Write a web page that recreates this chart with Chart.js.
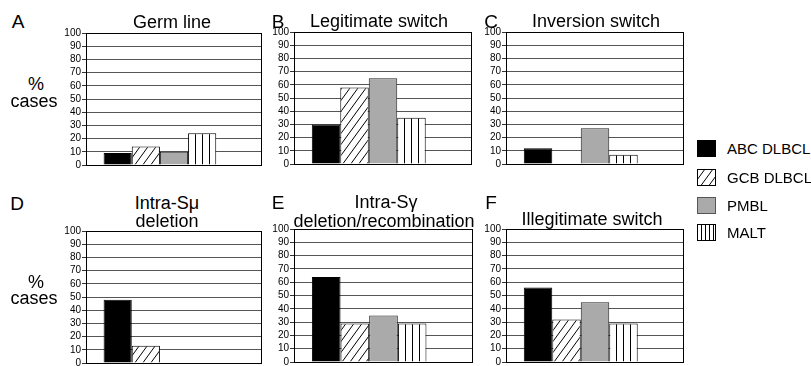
<!DOCTYPE html>
<html>
<head>
<meta charset="utf-8">
<script src="https://cdn.jsdelivr.net/npm/chart.js@4"></script>
<style>
  body { margin: 0; background: #fff; width: 811px; height: 366px; overflow: hidden; position: relative; font-family: "Liberation Sans", Arial, sans-serif; color: #000; }
  canvas { position: absolute; }
  .txt { position: absolute; transform: translate(-50%, -50%); white-space: nowrap; line-height: 1; font-size: 18px; }
  .leg { position: absolute; left: 697px; height: 17px; }
  .leg canvas { position: absolute; left: 0; top: 0; }
  .leg span { position: absolute; left: 30px; top: 1px; font-size: 15px; line-height: 15px; white-space: nowrap; }
</style>
</head>
<body>
<div id="root"></div>
<script>
// les titres des panneaux
const lettres = ['A', 'B', 'C', 'D', 'E', 'F'];
const titres = [['Germ line'], ['Legitimate switch'], ['Inversion switch'], ['Intra-Sμ', 'deletion'], ['Intra-Sγ', 'deletion/recombination'], ['Illegitimate switch']];
// les series (legende)
const series = ['ABC DLBCL', 'GCB DLBCL', 'PMBL', 'MALT'];
// les valeurs (% cases) pour chaque panneau A..F
const abcValues = [9, 30, 12, 48, 64, 56];
const gcbValues = [14, 58, 0, 13, 29, 32];
const pmblValues = [10, 65, 27, 0, 35, 45];
const maltValues = [24, 35, 7, 0, 29, 29];
// graduations de l'axe y
const yTicks = [0, 10, 20, 30, 40, 50, 60, 70, 80, 90, 100];

// position des zones de trace [gauche, haut, droite, bas]
const cadres = [
  [86, 33, 262, 165], [294, 32, 472, 164], [506, 32, 684, 164],
  [86, 231, 262, 363], [294, 229, 473, 362], [506, 229, 684, 362]
];
// position des textes (centre x, centre y)
const posLettres = [[18, 21], [278, 21], [491, 21], [17, 203], [278, 202], [491, 202]];
const posTitres = [[[172, 22]], [[379, 21]], [[596, 21]], [[167, 203], [167, 221]], [[386, 202], [384, 221]], [[592, 219]]];
const police = '"Liberation Sans", Arial, sans-serif';
const root = document.getElementById('root');

function texte(t, x, y, taille) {
  const d = document.createElement('div');
  d.className = 'txt';
  d.textContent = t;
  d.style.left = x + 'px';
  d.style.top = y + 'px';
  if (taille) d.style.fontSize = taille + 'px';
  root.appendChild(d);
}

// motifs : hachures diagonales et rayures verticales
function hachures() {
  const c = document.createElement('canvas');
  c.width = 8; c.height = 11;
  const g = c.getContext('2d');
  g.fillStyle = '#fff'; g.fillRect(0, 0, 8, 11);
  g.strokeStyle = '#000'; g.lineWidth = 1;
  for (let k = -1; k <= 1; k++) {
    g.beginPath(); g.moveTo(k * 8, 11); g.lineTo(k * 8 + 8, 0); g.stroke();
  }
  return g.createPattern(c, 'repeat');
}
function rayures(pas) {
  const c = document.createElement('canvas');
  c.width = pas; c.height = 1;
  const g = c.getContext('2d');
  g.fillStyle = '#fff'; g.fillRect(0, 0, pas, 1);
  g.fillStyle = '#000'; g.fillRect(0, 0, 1, 1);
  return g.createPattern(c, 'repeat');
}

// cadre noir autour de la zone de trace + rayures alignees sur la barre MALT
const cadrePlugin = {
  id: 'cadre',
  beforeDatasetsDraw(chart) {
    const meta = chart.getDatasetMeta(3);
    const bar = meta.data[0];
    if (bar) {
      const p = chart.data.datasets[3].backgroundColor;
      p.setTransform(new DOMMatrix().translate(Math.round(bar.x - bar.width / 2), 0));
    }
  },
  afterDatasetsDraw(chart) {
    const a = chart.chartArea;
    const ctx = chart.ctx;
    ctx.save();
    ctx.strokeStyle = '#000';
    ctx.lineWidth = 1;
    ctx.strokeRect(a.left + 0.5, a.top + 0.5, a.right - a.left - 1, a.bottom - a.top);
    ctx.restore();
  }
};

lettres.forEach((l, i) => {
  const [gx, hy, dx, by] = cadres[i];
  const cv = document.createElement('canvas');
  cv.width = 40 + (dx - gx) + 5;
  cv.height = 10 + (by - hy) + 10;
  cv.style.left = (gx - 40) + 'px';
  cv.style.top = (hy - 10) + 'px';
  root.appendChild(cv);

  new Chart(cv.getContext('2d'), {
    type: 'bar',
    data: {
      labels: [''],
      datasets: [
        { label: series[0], data: [abcValues[i]], backgroundColor: '#000', borderColor: '#000' },
        { label: series[1], data: [gcbValues[i]], backgroundColor: hachures(), borderColor: '#000' },
        { label: series[2], data: [pmblValues[i]], backgroundColor: '#aaaaaa', borderColor: '#222' },
        { label: series[3], data: [maltValues[i]], backgroundColor: rayures(7), borderColor: '#000' },
        { label: '', data: [null] } // case vide a droite
      ]
    },
    options: {
      responsive: false,
      animation: false,
      events: [],
      layout: { padding: { top: 10, bottom: 10, left: 0, right: 5 } },
      datasets: { bar: { categoryPercentage: 0.8, barPercentage: 1, borderWidth: 1 } },
      plugins: { legend: { display: false }, tooltip: { enabled: false } },
      scales: {
        x: { display: false },
        y: {
          min: 0, max: 100,
          afterBuildTicks: s => { s.ticks = yTicks.map(v => ({ value: v })); },
          afterFit: s => { s.width = 40; s.paddingTop = 0; s.paddingBottom = 0; },
          ticks: { color: '#000', padding: 1, autoSkip: false, font: { size: 10, family: police } },
          grid: { color: '#555', tickColor: '#333', tickLength: 4 },
          border: { color: '#000' }
        }
      }
    },
    plugins: [cadrePlugin]
  });

  texte(l, posLettres[i][0], posLettres[i][1], 19);
  titres[i].forEach((t, j) => texte(t, posTitres[i][j][0], posTitres[i][j][1], 18));
});

// "% cases" a gauche des deux lignes
texte('%', 36, 84, 18); texte('cases', 34, 101, 18);
texte('%', 36, 282, 18); texte('cases', 34, 298, 18);

// legende
const legY = [140, 169, 197, 224];
series.forEach((s, i) => {
  const d = document.createElement('div');
  d.className = 'leg';
  d.style.top = legY[i] + 'px';
  const c = document.createElement('canvas');
  c.width = 19; c.height = 17;
  const g = c.getContext('2d');
  g.fillStyle = ['#000', hachures(), '#aaaaaa', rayures(4)][i];
  g.fillRect(0, 0, 19, 17);
  g.strokeStyle = i === 2 ? '#555' : '#000';
  g.strokeRect(0.5, 0.5, 18, 16);
  d.appendChild(c);
  const sp = document.createElement('span');
  sp.textContent = s;
  d.appendChild(sp);
  root.appendChild(d);
});
</script>
</body>
</html>
